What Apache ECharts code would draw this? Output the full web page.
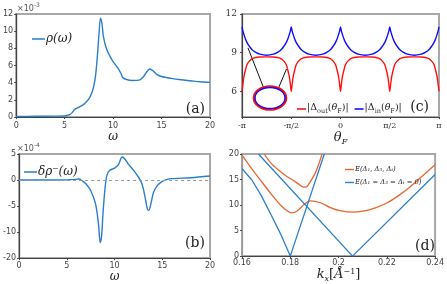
<!DOCTYPE html>
<html><head><meta charset="utf-8">
<script src="https://cdn.jsdelivr.net/npm/echarts@6/dist/echarts.min.js"></script>
<style>html,body{margin:0;padding:0;background:#fff}#c{width:447px;height:284px}</style>
</head><body><div id="c"></div><script>
// Panel (a): rho(omega), units of 1e-3
const omegaA = [0, 2, 4, 5, 5.5, 5.8, 6, 6.5, 7, 7.5, 7.8, 8, 8.2, 8.4, 8.55, 8.7, 8.85, 9, 9.3, 9.6, 10, 10.5, 10.8, 11, 11.3, 12, 12.7, 13.1, 13.5, 13.8, 14.1, 14.5, 15, 16, 17, 18, 19, 20];
const rhoA   = [0.07, 0.08, 0.1, 0.12, 0.27, 0.54, 0.85, 1.16, 1.5, 2.1, 2.8, 3.56, 4.9, 7.4, 9.75, 11.5, 10.9, 9.4, 8.0, 7.24, 6.46, 5.7, 5.1, 4.6, 4.4, 4.26, 4.3, 4.65, 5.3, 5.6, 5.4, 4.96, 4.72, 4.5, 4.34, 4.22, 4.1, 4.03];
// Panel (b): delta rho^-(omega), units of 1e-4
const omegaB = [0, 2, 4, 5, 6, 6.3, 6.6, 7, 7.5, 8, 8.3, 8.5, 8.65, 8.8, 9, 9.2, 9.5, 10, 10.4, 10.8, 11.1, 11.5, 12, 12.5, 12.8, 13, 13.2, 13.45, 13.6, 13.8, 14.1, 14.5, 15, 15.5, 16, 18, 20];
const drhoB  = [0, 0, 0, 0.02, 0.13, 0.2, -0.13, -0.7, -2, -4.5, -8.1, -12, -10.7, -6.2, -1.7, 0.9, 1.86, 2.3, 2.95, 4.42, 4.0, 2.95, 1.86, 0.58, -0.4, -1.55, -3.3, -5.64, -5.8, -4.6, -2.3, -1.03, -0.26, 0.13, 0.26, 0.45, 0.77];
const yTicksB = [5, 0, -5, -10, -15];
const yLabelsB = ['5', '0', '-5', '-10', '-20'];
// Panel (c): theta_F in units of pi
const thetaC = [-1, -0.99, -0.98, -0.965, -0.95, -0.93, -0.9, -0.86, -0.82, -0.75, -0.68, -0.64, -0.6, -0.57, -0.55, -0.535, -0.52, -0.51,
  -0.5, -0.49, -0.48, -0.465, -0.45, -0.43, -0.4, -0.36, -0.32, -0.25, -0.18, -0.14, -0.1, -0.07, -0.05, -0.035, -0.02, -0.01,
  0, 0.01, 0.02, 0.035, 0.05, 0.07, 0.1, 0.14, 0.18, 0.25, 0.32, 0.36, 0.4, 0.43, 0.45, 0.465, 0.48, 0.49,
  0.5, 0.51, 0.52, 0.535, 0.55, 0.57, 0.6, 0.64, 0.68, 0.75, 0.82, 0.86, 0.9, 0.93, 0.95, 0.965, 0.98, 0.99, 1];
const deltaOut = [6.0, 6.6, 7.15, 7.65, 8.05, 8.3, 8.52, 8.62, 8.66, 8.67, 8.66, 8.62, 8.52, 8.3, 8.05, 7.65, 7.15, 6.6,
  6.0, 6.6, 7.15, 7.65, 8.05, 8.3, 8.52, 8.62, 8.66, 8.67, 8.66, 8.62, 8.52, 8.3, 8.05, 7.65, 7.15, 6.6,
  6.0, 6.6, 7.15, 7.65, 8.05, 8.3, 8.52, 8.62, 8.66, 8.67, 8.66, 8.62, 8.52, 8.3, 8.05, 7.65, 7.15, 6.6,
  6.0, 6.6, 7.15, 7.65, 8.05, 8.3, 8.52, 8.62, 8.66, 8.67, 8.66, 8.62, 8.52, 8.3, 8.05, 7.65, 7.15, 6.6, 6.0];
const deltaIn = [11.0, 10.65, 10.4, 10.05, 9.8, 9.55, 9.25, 9.02, 8.88, 8.8, 8.88, 9.02, 9.25, 9.55, 9.8, 10.05, 10.4, 10.65,
  11.0, 10.65, 10.4, 10.05, 9.8, 9.55, 9.25, 9.02, 8.88, 8.8, 8.88, 9.02, 9.25, 9.55, 9.8, 10.05, 10.4, 10.65,
  11.0, 10.65, 10.4, 10.05, 9.8, 9.55, 9.25, 9.02, 8.88, 8.8, 8.88, 9.02, 9.25, 9.55, 9.8, 10.05, 10.4, 10.65,
  11.0, 10.65, 10.4, 10.05, 9.8, 9.55, 9.25, 9.02, 8.88, 8.8, 8.88, 9.02, 9.25, 9.55, 9.8, 10.05, 10.4, 10.65, 11.0];
const thetaTicks = [-1, -0.5, 0, 0.5, 1];
const thetaLabels = ['-π', '-π/2', '0', 'π/2', 'π'];
// Panel (d): dispersion
const kUpper = [0.1692, 0.172, 0.175, 0.178, 0.181, 0.1835, 0.1855, 0.1868, 0.1882, 0.1905, 0.1932];
const eUpper = [20, 18.2, 16.9, 15.8, 14.9, 14.1, 13.5, 13.6, 14.5, 16.4, 20];
const kLower = [0.16, 0.1641, 0.1681, 0.1722, 0.1762, 0.179, 0.1807, 0.183, 0.1857, 0.1884, 0.1925, 0.1966, 0.2006, 0.206, 0.21, 0.215, 0.22, 0.225, 0.23, 0.235, 0.24];
const eLower = [19.8, 17.1, 14.6, 12.1, 9.85, 8.8, 8.45, 8.9, 10.1, 10.8, 10.45, 9.5, 8.9, 8.6, 8.8, 9.4, 10.4, 11.9, 13.7, 15.8, 17.9];
const kBare1 = [0.16, 0.1641, 0.1681, 0.1722, 0.1762, 0.18, 0.1941];
const eBare1 = [17.14, 14.9, 11.75, 7.94, 4.13, 0, 20];
const kBare2 = [0.1668, 0.2058, 0.24];
const eBare2 = [20, 0, 16];

const zip = (a, b) => a.map((v, i) => [v, b[i]]);
const BLUE = '#2a7fcc', ORANGE = '#e8662f';
const tickFont = {fontFamily: 'DejaVu Sans', fontSize: 8, color: '#444'};
const serifTick = {fontFamily: 'DejaVu Serif', fontSize: 8, color: '#333'};

function grid(l, t, w, h) {
  return {left: l, top: t, width: w, height: h, show: true, borderColor: '#a8a8a8', borderWidth: 2, backgroundColor: 'transparent'};
}
function axisBase(extra) {
  return Object.assign({
    axisLine: {show: true, onZero: false, lineStyle: {color: '#444', width: 1.2}},
    axisTick: {show: true, inside: false, length: 2, lineStyle: {color: '#444'}},
    splitLine: {show: false},
  }, extra);
}
const subRich = {
  i: {fontFamily: 'DejaVu Serif', fontStyle: 'italic', fontSize: 13, color: '#222', verticalAlign: 'top', lineHeight: 15},
  n: {fontFamily: 'DejaVu Serif', fontSize: 13, color: '#222', verticalAlign: 'top', lineHeight: 15},
  s: {fontFamily: 'DejaVu Serif', fontStyle: 'italic', fontSize: 8, color: '#222', verticalAlign: 'top', padding: [7, 0, 0, 0]},
  u: {fontFamily: 'DejaVu Serif', fontSize: 8, color: '#222', verticalAlign: 'top', padding: [0, 0, 0, 0]}
};

const chart = echarts.init(document.getElementById('c'), null, {renderer: 'canvas'});
chart.setOption({
  animation: false,
  backgroundColor: '#fff',
  grid: [grid(13, 14, 197, 103), grid(13, 154, 197, 105), grid(242, 14, 197, 103), grid(242, 154, 197, 105)],
  xAxis: [
    axisBase({gridIndex: 0, type: 'value', min: 0, max: 20, interval: 5, axisLabel: Object.assign({margin: 5}, tickFont),
      name: 'ω', nameLocation: 'middle', nameGap: 12, nameTextStyle: {fontFamily: 'DejaVu Serif', fontStyle: 'italic', fontSize: 12, color: '#222'}}),
    axisBase({gridIndex: 1, type: 'value', min: 0, max: 20, interval: 5, axisLabel: Object.assign({margin: 4}, tickFont),
      name: 'ω', nameLocation: 'middle', nameGap: 10, nameTextStyle: {fontFamily: 'DejaVu Serif', fontStyle: 'italic', fontSize: 12, color: '#222'}}),
    axisBase({gridIndex: 2, type: 'value', min: -1, max: 1, interval: 0.5,
      axisLabel: Object.assign({margin: 5, formatter: v => thetaLabels[thetaTicks.indexOf(v)] ?? ''}, serifTick),
      name: '{i|θ}{s|F}', nameLocation: 'middle', nameGap: 12, nameTextStyle: {rich: subRich}}),
    axisBase({gridIndex: 3, type: 'value', min: 0.16, max: 0.24, interval: 0.02, axisLabel: Object.assign({margin: 3}, tickFont),
      name: '{i|k}{s|x}{n|[}{i|Å}{u|−1}{n|]}', nameLocation: 'middle', nameGap: 11, nameTextStyle: {rich: subRich}})
  ],
  yAxis: [
    axisBase({gridIndex: 0, type: 'value', min: 0, max: 12, interval: 2, axisLabel: Object.assign({margin: 3}, tickFont)}),
    axisBase({gridIndex: 1, type: 'value', min: -15, max: 5, interval: 5,
      axisLabel: Object.assign({margin: 3, formatter: v => yLabelsB[yTicksB.indexOf(v)] ?? ''}, tickFont)}),
    axisBase({gridIndex: 2, type: 'value', min: 4, max: 12,
      axisLabel: Object.assign({margin: 5, customValues: [6, 9, 12]}, serifTick, {fontSize: 9}),
      axisTick: {show: true, length: 2, customValues: [6, 9, 12], lineStyle: {color: '#444'}}}),
    axisBase({gridIndex: 3, type: 'value', min: 0, max: 20, interval: 5, axisLabel: Object.assign({margin: 3}, tickFont),
      axisLine: {show: true, onZero: false, lineStyle: {color: '#999', width: 1.2}}})
  ],
  legend: [
    {data: ['rho'], left: 27, top: 28, icon: 'rect', itemWidth: 13, itemHeight: 1.5, formatter: () => 'ρ(ω)',
      textStyle: {fontFamily: 'DejaVu Serif', fontStyle: 'italic', fontSize: 12, color: '#222', padding: [0, 0, 0, -4]}},
    {data: ['drho'], left: 19, top: 161, icon: 'rect', itemWidth: 13, itemHeight: 1.5, formatter: () => 'δρ⁻(ω)',
      textStyle: {fontFamily: 'DejaVu Serif', fontStyle: 'italic', fontSize: 12, color: '#222', padding: [0, 0, 0, -4]}},
    {data: ['out', 'in'], left: 292, top: 98, icon: 'rect', itemWidth: 9, itemHeight: 1.6, itemGap: 6,
      formatter: n => n === 'out' ? '{n||Δ}{b|out}{n|(}{i|θ}{b|F}{n|)|}' : '{n||Δ}{b|in}{n|(}{i|θ}{b|F}{n|)|}',
      textStyle: {padding: [0, 0, 0, -4], rich: {
        n: {fontFamily: 'DejaVu Serif', fontSize: 9.5, color: '#222', verticalAlign: 'top', lineHeight: 12},
        i: {fontFamily: 'DejaVu Serif', fontStyle: 'italic', fontSize: 9.5, color: '#222', verticalAlign: 'top', lineHeight: 12},
        b: {fontFamily: 'DejaVu Serif', fontSize: 6.5, color: '#222', verticalAlign: 'top', padding: [5, 0, 0, 0]}
      }}},
    {data: ['Ed', 'E0'], orient: 'vertical', left: 340, top: 161, icon: 'rect', itemWidth: 9, itemHeight: 1.4, itemGap: 6,
      formatter: n => n === 'Ed' ? 'E(Δ₁, Δ₃, Δₜ)' : 'E(Δ₁ = Δ₃ = Δₜ = 0)',
      textStyle: {fontFamily: 'DejaVu Serif', fontStyle: 'italic', fontSize: 6.8, color: '#222', padding: [0, 0, 0, -4]}}
  ],
  series: [
    {name: 'rho', type: 'line', xAxisIndex: 0, yAxisIndex: 0, data: zip(omegaA, rhoA), symbol: 'none', smooth: 0.3,
      lineStyle: {color: BLUE, width: 1.4}, itemStyle: {color: BLUE}},
    {name: 'drho', type: 'line', xAxisIndex: 1, yAxisIndex: 1, data: zip(omegaB, drhoB), symbol: 'none', smooth: 0.3,
      lineStyle: {color: BLUE, width: 1.4}, itemStyle: {color: BLUE}, z: 3,
      markLine: {silent: true, symbol: 'none', label: {show: false}, lineStyle: {color: '#999', type: [3, 3], width: 1},
        data: [{yAxis: 0}]}},
    {name: 'out', type: 'line', xAxisIndex: 2, yAxisIndex: 2, data: zip(thetaC, deltaOut), symbol: 'none', smooth: 0.3,
      lineStyle: {color: '#ff1010', width: 1.4}, itemStyle: {color: '#ff1010'}},
    {name: 'in', type: 'line', xAxisIndex: 2, yAxisIndex: 2, data: zip(thetaC, deltaIn), symbol: 'none', smooth: 0.3,
      lineStyle: {color: '#1010ff', width: 1.4}, itemStyle: {color: '#1010ff'}},
    {name: 'Ed', type: 'line', xAxisIndex: 3, yAxisIndex: 3, data: zip(kUpper, eUpper), symbol: 'none', smooth: 0.3,
      lineStyle: {color: ORANGE, width: 1.3}, itemStyle: {color: ORANGE}},
    {name: 'Ed', type: 'line', xAxisIndex: 3, yAxisIndex: 3, data: zip(kLower, eLower), symbol: 'none', smooth: 0.3,
      lineStyle: {color: ORANGE, width: 1.3}, itemStyle: {color: ORANGE}},
    {name: 'E0', type: 'line', xAxisIndex: 3, yAxisIndex: 3, data: zip(kBare1, eBare1), symbol: 'none', smooth: false,
      lineStyle: {color: BLUE, width: 1.3}, itemStyle: {color: BLUE}},
    {name: 'E0', type: 'line', xAxisIndex: 3, yAxisIndex: 3, data: zip(kBare2, eBare2), symbol: 'none', smooth: false,
      lineStyle: {color: BLUE, width: 1.3}, itemStyle: {color: BLUE}}
  ],
  graphic: [
    {type: 'text', left: 17, top: 2, style: {text: '{m|×10}{p|-3}', rich: {
      m: {fontFamily: 'DejaVu Sans', fontSize: 8, fill: '#555', verticalAlign: 'bottom'},
      p: {fontFamily: 'DejaVu Sans', fontSize: 6, fill: '#555', verticalAlign: 'bottom', padding: [0, 0, 5, 0]}}}},
    {type: 'text', left: 17, top: 142, style: {text: '{m|×10}{p|-4}', rich: {
      m: {fontFamily: 'DejaVu Sans', fontSize: 8, fill: '#555', verticalAlign: 'bottom'},
      p: {fontFamily: 'DejaVu Sans', fontSize: 6, fill: '#555', verticalAlign: 'bottom', padding: [0, 0, 5, 0]}}}},
    {type: 'text', x: 205, y: 109, style: {text: '(a)', fontFamily: 'DejaVu Serif', fontSize: 14, fill: '#222', align: 'right', verticalAlign: 'middle'}},
    {type: 'text', x: 205, y: 243, style: {text: '(b)', fontFamily: 'DejaVu Serif', fontSize: 14, fill: '#222', align: 'right', verticalAlign: 'middle'}},
    {type: 'text', x: 429, y: 107, style: {text: '(c)', fontFamily: 'DejaVu Serif', fontSize: 14, fill: '#222', align: 'right', verticalAlign: 'middle'}},
    {type: 'text', x: 435, y: 246, style: {text: '(d)', fontFamily: 'DejaVu Serif', fontSize: 14, fill: '#222', align: 'right', verticalAlign: 'middle'}},
    {type: 'line', shape: {x1: 263.5, y1: 87.5, x2: 248, y2: 48}, style: {stroke: '#111', lineWidth: 1}},
    {type: 'line', shape: {x1: 278.5, y1: 88, x2: 286.5, y2: 69}, style: {stroke: '#111', lineWidth: 1}},
    {type: 'ellipse', shape: {cx: 270, cy: 98, rx: 16, ry: 11.5}, style: {fill: '#fff', stroke: '#ff1010', lineWidth: 2.6}},
    {type: 'ellipse', shape: {cx: 270, cy: 98, rx: 15, ry: 10.5}, style: {fill: 'none', stroke: '#1010ff', lineWidth: 1.3}}
  ]
});
</script></body></html>
